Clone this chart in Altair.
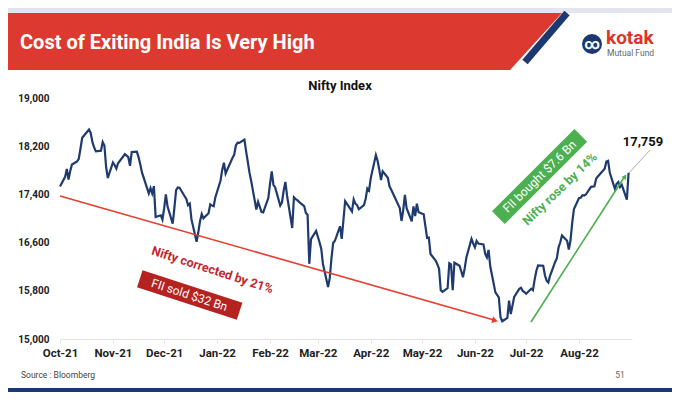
import altair as alt
import pandas as pd

# ---------------- data ----------------
dates = [
    "2021-10-01","2021-10-04","2021-10-05","2021-10-06","2021-10-07","2021-10-08","2021-10-11","2021-10-12","2021-10-13","2021-10-14",
    "2021-10-18","2021-10-19","2021-10-20","2021-10-21","2021-10-22","2021-10-25","2021-10-26","2021-10-27","2021-10-28","2021-10-29",
    "2021-11-01","2021-11-02","2021-11-03","2021-11-04","2021-11-08","2021-11-09","2021-11-10","2021-11-11","2021-11-12","2021-11-15",
    "2021-11-16","2021-11-17","2021-11-18","2021-11-22","2021-11-23","2021-11-24","2021-11-25","2021-11-26","2021-11-29","2021-11-30",
    "2021-12-01","2021-12-02","2021-12-03","2021-12-06","2021-12-07","2021-12-08","2021-12-09","2021-12-10","2021-12-13","2021-12-14",
    "2021-12-15","2021-12-16","2021-12-17","2021-12-20","2021-12-21","2021-12-22","2021-12-23","2021-12-24","2021-12-27","2021-12-28",
    "2021-12-29","2021-12-30","2021-12-31",
    "2022-01-03","2022-01-04","2022-01-05","2022-01-06","2022-01-07","2022-01-10","2022-01-11","2022-01-12","2022-01-13","2022-01-14",
    "2022-01-17","2022-01-18","2022-01-19","2022-01-20","2022-01-21","2022-01-24","2022-01-25","2022-01-27","2022-01-28","2022-01-31",
    "2022-02-01","2022-02-02","2022-02-03","2022-02-04","2022-02-07","2022-02-08","2022-02-09","2022-02-10","2022-02-11","2022-02-14",
    "2022-02-15","2022-02-16","2022-02-17","2022-02-18","2022-02-21","2022-02-22","2022-02-23","2022-02-24","2022-02-25","2022-02-28",
    "2022-03-02","2022-03-03","2022-03-04","2022-03-07","2022-03-08","2022-03-09","2022-03-10","2022-03-11","2022-03-14","2022-03-15",
    "2022-03-16","2022-03-17","2022-03-21","2022-03-22","2022-03-23","2022-03-24","2022-03-25","2022-03-28","2022-03-29","2022-03-30",
    "2022-03-31",
    "2022-04-01","2022-04-04","2022-04-05","2022-04-06","2022-04-07","2022-04-08","2022-04-11","2022-04-12","2022-04-13","2022-04-18",
    "2022-04-19","2022-04-20","2022-04-21","2022-04-22","2022-04-25","2022-04-26","2022-04-27","2022-04-28","2022-04-29",
    "2022-05-02","2022-05-04","2022-05-05","2022-05-06","2022-05-09","2022-05-10","2022-05-11","2022-05-12","2022-05-13","2022-05-16",
    "2022-05-17","2022-05-18","2022-05-19","2022-05-20","2022-05-23","2022-05-24","2022-05-25","2022-05-26","2022-05-27","2022-05-30",
    "2022-05-31",
    "2022-06-01","2022-06-02","2022-06-03","2022-06-06","2022-06-07","2022-06-08","2022-06-09","2022-06-10","2022-06-13","2022-06-14",
    "2022-06-15","2022-06-16","2022-06-17","2022-06-20","2022-06-21","2022-06-22","2022-06-23","2022-06-24","2022-06-27","2022-06-28",
    "2022-06-29","2022-06-30",
    "2022-07-01","2022-07-04","2022-07-05","2022-07-06","2022-07-07","2022-07-08","2022-07-11","2022-07-12","2022-07-13","2022-07-14",
    "2022-07-15","2022-07-18","2022-07-19","2022-07-20","2022-07-21","2022-07-22","2022-07-25","2022-07-26","2022-07-27","2022-07-28",
    "2022-07-29",
    "2022-08-01","2022-08-02","2022-08-03","2022-08-04","2022-08-05","2022-08-08","2022-08-10","2022-08-11","2022-08-12","2022-08-16",
    "2022-08-17","2022-08-18","2022-08-19","2022-08-22","2022-08-23","2022-08-24","2022-08-25","2022-08-26","2022-08-29","2022-08-30",
]
nifty = [
    17532,17691,17822,17646,17790,17895,17946,17992,18162,18339,
    18477,18419,18267,18179,18115,18126,18268,18211,17857,17672,
    17930,17889,17830,17917,18069,18045,18018,17874,18103,18109,
    18018,17899,17765,17417,17504,17416,17537,17026,17054,16983,
    17167,17401,17197,16913,17176,17470,17517,17512,17369,17325,
    17221,17248,16985,16615,16771,16955,17073,17004,17086,17234,
    17214,17204,17354,
    17626,17806,17925,17746,17813,18003,18056,18212,18258,18256,
    18309,18113,17938,17757,17617,17149,17278,17110,17102,17340,
    17576,17780,17560,17516,17214,17266,17464,17606,17375,16843,
    17352,17322,17304,17276,17207,17092,17063,16248,16658,16794,
    16606,16498,16245,15863,16013,16345,16594,16630,16871,16663,
    16975,17287,17117,17316,17246,17223,17153,17222,17325,17498,
    17465,
    17670,18053,17957,17808,17639,17784,17675,17530,17476,17174,
    16959,17136,17393,17172,16954,17201,17039,17245,17103,
    17069,16678,16683,16411,16302,16240,16167,15808,15782,15842,
    16259,16240,15809,16266,16215,16125,16026,16170,16353,16661,
    16585,
    16523,16628,16584,16570,16416,16356,16479,16202,15774,15732,
    15692,15361,15294,15350,15638,15413,15557,15699,15832,15850,
    15799,15780,
    15752,15835,15811,15990,16133,16221,16216,16058,15967,15938,
    16049,16279,16341,16521,16606,16719,16632,16484,16642,16930,
    17158,
    17340,17345,17388,17382,17398,17525,17535,17659,17698,17825,
    17944,17956,17758,17491,17577,17605,17523,17559,17313,17759,
]
y_ticks = [15000, 15800, 16600, 17400, 18200, 19000]
month_ticks = [(2021, 10), (2021, 11), (2021, 12), (2022, 1), (2022, 2), (2022, 3),
               (2022, 4), (2022, 5), (2022, 6), (2022, 7), (2022, 8)]
last_label = "17,759"

df = pd.DataFrame({"date": dates, "nifty": nifty})

# ---------------- layout helpers ----------------
X0, Y0 = 60, 98          # page position of plot origin
W, H = 572, 241
def px(x): return x - X0
def py(y): return y - Y0

FONT = "Roboto"
NAVY = "#1c3870"
RED = "#dc3a30"
one = alt.Data(values=[{"a": 1}])

def rect(x1, y1, x2, y2, color):
    return alt.Chart(one).mark_rect(color=color).encode(
        x=alt.value(px(x1)), x2=alt.value(px(x2)), y=alt.value(py(y1)), y2=alt.value(py(y2)))

def rule(x1, y1, x2, y2, color, w, cap="butt"):
    return alt.Chart(one).mark_rule(color=color, strokeWidth=w, strokeCap=cap).encode(
        x=alt.value(px(x1)), x2=alt.value(px(x2)), y=alt.value(py(y1)), y2=alt.value(py(y2)))

def text(t, x, y, size, color, weight="normal", angle=0, align="center", baseline="middle"):
    return alt.Chart(one).mark_text(text=t, font=FONT, fontSize=size, color=color, fontWeight=weight,
                                    angle=angle, align=align, baseline=baseline).encode(
        x=alt.value(px(x)), y=alt.value(py(y)))

def symbol(shape, x, y, size, color, angle=0):
    return alt.Chart(one).mark_point(shape=shape, filled=True, color=color, size=size, opacity=1,
                                     strokeWidth=0, angle=angle).encode(
        x=alt.value(px(x)), y=alt.value(py(y)))

# ---------------- slide decoration ----------------
layers = []
layers.append(rect(0, 13, 510, 70, RED))
# slanted right edge of the banner: thick red band whose right side is the slant
layers.append(rule(568.2, -23.5, 472.4, 81.5, RED, 40))
layers.append(rect(400, 70, 640, 97, "white"))
layers.append(rect(0, 8, 680, 13, "#e4e4ec"))
layers.append(rule(567, 13, 525, 62, NAVY, 7))
layers.append(text("Cost of Exiting India Is Very High", 20, 43, 20, "white", "bold", align="left"))
layers.append(symbol("circle", 592, 44, 400, NAVY))
layers.append(text("∞", 592, 44, 15, "white", "bold"))
layers.append(text("kotak", 606, 38, 19, "#e0312a", "bold", align="left"))
layers.append(text("Mutual Fund", 607, 53, 8.5, "#666666", align="left"))
layers.append(text("Nifty Index", 340, 86, 13, "#111111", "bold"))
layers.append(text("Source : Bloomberg", 21, 375, 8.5, "#444444", align="left"))
layers.append(text("51", 620, 375, 8.5, "#666666"))
layers.append(rect(0, 388, 680, 392, NAVY))

# ---------------- main line ----------------
line = alt.Chart(df).mark_line(color="#1f3a6e", strokeWidth=2.2).encode(
    x=alt.X("date:T",
            scale=alt.Scale(type="utc", domain=[alt.DateTime(year=2021, month=10, date=1, utc=True),
                                                alt.DateTime(year=2022, month=9, date=1, utc=True)]),
            axis=alt.Axis(title=None, format="%b-%y",
                          values=[alt.DateTime(year=y, month=m, date=1, utc=True) for y, m in month_ticks],
                          labelFont=FONT, labelFontSize=11.5, labelFontWeight="bold", labelColor="#222222",
                          domainColor="#e3e3e3", tickColor="#e3e3e3", tickSize=4, labelPadding=4,
                          labelOverlap=False, labelBound=False, labelFlush=False, grid=False)),
    y=alt.Y("nifty:Q", scale=alt.Scale(domain=[15000, 19000], nice=False, zero=False),
            axis=alt.Axis(title=None, values=y_ticks, format=",d", labelFont=FONT, labelFontSize=10,
                          labelFontWeight="bold", labelColor="#222222", domain=False, ticks=False,
                          grid=False, labelPadding=11, labelOverlap=False)),
)

# ---------------- annotations ----------------
ann = []
# red downward arrow
ann.append(rule(60, 196, 494, 320, "#e63b30", 1.6))
ann.append(symbol("triangle-right", 495, 320.5, 45, "#e63b30", angle=16))
ann.append(text("Nifty corrected by 21%", 212.5, 270, 12.5, "#c1272d", "bold", angle=18))
ann.append(rule(139.8, 278.8, 239.6, 311.2, "#b52320", 18))
ann.append(text("FII sold $32 Bn", 189.5, 295, 12, "white", angle=18))
# green upward arrow
ann.append(rule(531, 322, 625, 176, "#4caf50", 1.6))
ann.append(symbol("triangle-right", 625, 176.5, 30, "#4caf50", angle=303))
ann.append(rule(498.4, 217.6, 580.8, 135.4, "#4caf50", 18))
ann.append(text("FII bought $7.6 Bn", 539.6, 176.5, 12, "white", angle=315.5))
ann.append(text("Nifty rose by 14%", 560, 189, 12.5, "#4caf50", "bold", angle=316))
# last value label
ann.append(rule(629, 173, 650, 150, "#b0b0b0", 1))
ann.append(text(last_label, 643, 142, 13, "#111111", "bold"))

chart = alt.layer(*layers, line, *ann).properties(
    width=W, height=H,
    padding={"left": X0 - 8, "top": Y0 - 8, "right": 664 - (X0 - 8) - W, "bottom": 386 - (Y0 - 8) - H},
    autosize=alt.AutoSizeParams(type="none"),
    background="white",
).configure_view(stroke=None)

chart.save("out.html", embed_options={"renderer": "svg", "actions": False})
